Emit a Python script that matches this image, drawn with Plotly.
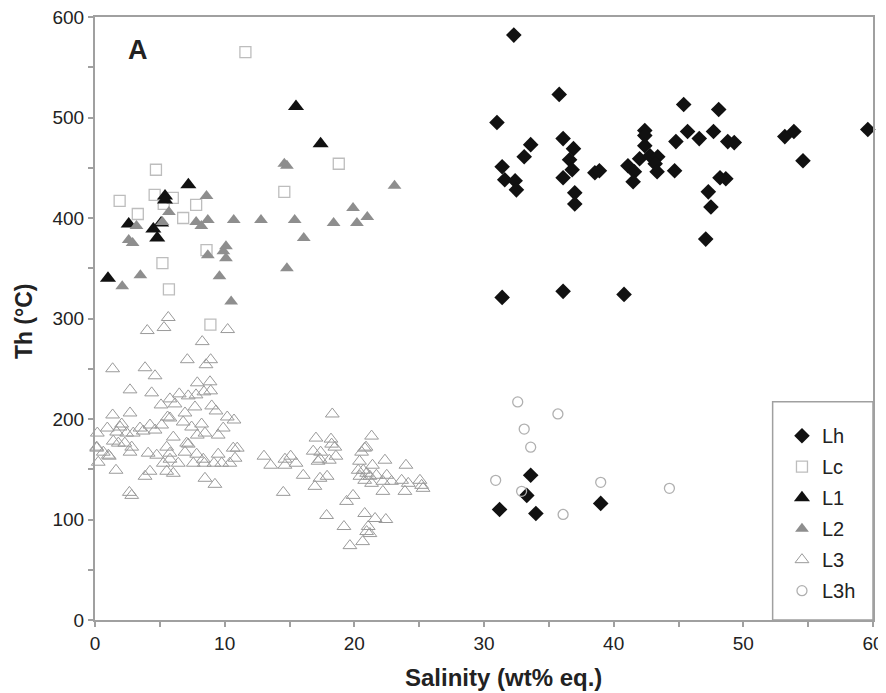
import plotly.graph_objects as go

# ---- data (salinity wt% eq., Th °C) ----
lh_x = [31.0, 32.3, 35.8, 33.6, 33.1, 31.4, 31.6, 32.4, 32.5, 36.1, 36.9, 36.6, 36.8, 36.1, 37.0, 37.0,
        31.4, 36.1, 45.4, 48.1, 42.4, 42.4, 42.4, 45.7, 46.6, 47.7, 44.8, 48.8, 49.3, 53.2, 53.9, 54.6,
        59.6, 42.0, 41.1, 41.6, 41.5, 42.8, 43.4, 43.2, 43.35, 44.7, 38.55, 38.9, 48.2, 48.65, 47.3,
        47.5, 47.1, 40.8, 33.6, 33.3, 31.2, 34.0, 39.0]
lh_y = [495, 582, 523, 473, 461, 451, 438, 437, 428, 479, 469, 458, 448, 440, 425, 414,
        321, 327, 513, 508, 487, 482, 472, 486, 479, 486, 476, 476, 475, 481, 486, 457,
        488, 459, 452, 446, 436, 462, 461, 454, 446, 447, 445, 447, 440, 439, 426,
        411, 379, 324, 144, 124, 110, 106, 116]

lc_x = [11.6, 4.7, 1.9, 4.6, 6.0, 3.3, 7.8, 6.8, 5.3, 5.2, 8.6, 5.7, 8.9, 14.6, 18.8]
lc_y = [565, 448, 417, 423, 420, 404, 413, 400, 414, 355, 368, 329, 294, 426, 454]

l1_x = [1.0, 2.6, 4.5, 4.8, 5.4, 5.4, 5.1, 7.2, 15.5, 17.4]
l1_y = [340, 394, 389, 380, 422, 418, 395, 433, 511, 474]

l2_x = [2.1, 3.5, 2.6, 2.9, 3.2, 5.2, 5.7, 8.6, 7.8, 8.2, 8.7, 10.7, 12.8, 10.1, 9.9, 10.1, 8.7,
        9.6, 10.5, 14.6, 14.8, 15.4, 16.1, 14.8, 18.4, 19.9, 20.2, 21.0, 23.1]
l2_y = [332, 343, 378, 375, 392, 396, 406, 422, 396, 392, 398, 398, 398, 372, 367, 360, 363,
        342, 317, 454, 452, 398, 380, 350, 395, 410, 395, 401, 432]

l3_x = [5.65, 4.03, 5.32, 10.23, 8.27, 7.12, 8.92, 8.56, 1.36, 3.86, 4.63, 2.7, 4.37, 7.89, 8.87,
        6.5, 7.19, 7.79, 8.4, 8.92, 5.78, 5.09, 6.17, 7.71, 9.0, 9.33, 6.94, 2.7, 1.36, 5.6, 5.78,
        10.2, 10.72, 0.18, 0.95, 2.06, 1.67, 2.44, 3.47, 2.95, 3.72, 4.24, 4.63, 5.14, 6.04, 6.8,
        7.45, 8.22, 8.48, 7.89, 9.5, 9.89, 0.13, 1.41, 1.8, 0.64, 1.1, 0.25, 2.7, 2.3, 2.83, 1.62,
        4.1, 4.76, 5.53, 5.78, 5.78, 5.27, 6.42, 7.07, 7.19, 6.94, 7.84, 7.58, 8.43, 8.35, 9.17,
        9.5, 9.77, 10.4, 10.8, 10.66, 3.86, 4.24, 5.53, 6.04, 8.48, 9.25, 2.65, 2.83, 1.93, 1.03,
        0.13, 10.97,
        18.3, 17.04, 18.2, 18.25, 18.5, 16.83, 17.4, 17.35, 17.2, 18.58, 18.07, 13.03, 13.55, 14.65,
        14.65, 15.09, 15.5, 14.52, 16.06, 17.35, 17.9, 16.96, 17.86, 21.33, 20.8, 20.56, 20.4, 20.3,
        20.69, 20.95, 20.43, 21.2, 20.8, 21.33, 21.7, 22.36, 22.5, 22.87, 22.2, 22.2, 23.98, 23.65,
        24.16, 23.9, 25.06, 25.19, 25.3, 19.9, 19.4, 19.2, 20.8, 21.6, 22.43, 21.07, 20.95, 21.2,
        20.64, 19.66, 20.9, 21.4]
l3_y = [301, 288, 291, 289, 277, 259, 259, 254, 250, 251, 243, 229, 226, 236, 237,
        225, 223, 224, 227, 228, 220, 214, 215, 212, 213, 208, 206, 206, 204, 202, 201,
        202, 199, 186, 191, 195, 187, 186, 191, 186, 188, 194, 189, 194, 182, 197,
        192, 195, 186, 184, 184, 191, 172, 178, 176, 167, 163, 157, 167, 176, 172, 149,
        166, 164, 172, 166, 160, 156, 156, 176, 175, 167, 165, 156, 156, 160, 156,
        165, 156, 156, 161, 171, 143, 148, 148, 146, 141, 135, 127, 124, 192, 164,
        171, 171,
        205, 181, 180, 175, 172, 168, 167, 160, 158, 163, 159, 163, 154, 160,
        154, 163, 156, 127, 144, 141, 143, 133, 104, 183, 171, 167, 158, 149,
        149, 146, 143, 143, 139, 136, 144, 159, 144, 138, 138, 128, 154, 139,
        136, 128, 139, 134, 131, 124, 118, 93, 106, 101, 100, 93, 88, 86,
        78, 74, 172, 154]

l3h_x = [32.6, 35.7, 33.1, 33.6, 30.9, 32.9, 36.1, 39.0, 44.3]
l3h_y = [217, 205, 190, 172, 139, 128, 105, 137, 131]

FONT = "Liberation Sans, Arial, sans-serif"
AXC = "#a0a0a0"
TXT = "#222222"

fig = go.Figure()

series = [
    ("Lh", lh_x, lh_y, "diamond", 12, "#111111", None),
    ("Lc", lc_x, lc_y, "square-open", 11, "#bdbdbd", 1.3),
    ("L1", l1_x, l1_y, "triangle-up", 14, "#111111", None),
    ("L2", l2_x, l2_y, "triangle-up", 12, "#8e8e8e", None),
    ("L3", l3_x, l3_y, "triangle-up-open", 12, "#9a9a9a", 1.0),
    ("L3h", l3h_x, l3h_y, "circle-open", 10, "#b0b0b0", 1.3),
]
for i, (name, xs, ys, sym, size, col, lw) in enumerate(series):
    mk = dict(symbol=sym, size=size, color=col)
    if lw is not None:
        mk["line"] = dict(width=lw, color=col)
    else:
        mk["line"] = dict(width=0)
    fig.add_trace(go.Scatter(x=xs, y=ys, mode="markers", name=name, marker=mk,
                             legendgroup=f"g{i}", cliponaxis=False))

# legend box (paper coordinates)
fig.add_shape(type="rect", xref="paper", yref="paper", x0=0.871, x1=1.0, y0=0.0, y1=0.362,
              line=dict(color=AXC, width=1.5), fillcolor="white", layer="below")

fig.add_annotation(text="<b>A</b>", xref="paper", yref="paper", x=0.055, y=0.945,
                   xanchor="center", yanchor="middle",
                   showarrow=False, font=dict(family=FONT, size=27, color=TXT))
fig.add_annotation(text="<b>Salinity (wt% eq.)</b>", xref="paper", yref="paper",
                   x=0.525, y=-0.096, xanchor="center", yanchor="middle",
                   showarrow=False, font=dict(family=FONT, size=24, color=TXT))
fig.add_annotation(text="<b>Th (°C)</b>", xref="paper", yref="paper", textangle=-90,
                   x=-0.091, y=0.496, xanchor="center", yanchor="middle",
                   showarrow=False, font=dict(family=FONT, size=23, color=TXT))

fig.update_layout(
    width=878, height=685,
    margin=dict(l=87, r=13, t=9, b=73),
    paper_bgcolor="white", plot_bgcolor="white",
    font=dict(family=FONT, color=TXT),
    showlegend=True,
    legend=dict(x=0.883, y=0.338, xanchor="left", yanchor="top",
                bgcolor="rgba(0,0,0,0)", borderwidth=0,
                font=dict(family=FONT, size=20, color=TXT),
                tracegroupgap=2, traceorder="grouped", itemwidth=30),
    xaxis=dict(range=[0, 60], dtick=10, tick0=0, showgrid=False, zeroline=False,
               automargin=False, ticklabeloverflow="allow",
               showline=True, linecolor=AXC, linewidth=2, mirror=True,
               ticks="outside", ticklen=5, tickcolor=AXC, tickwidth=1.5,
               minor=dict(dtick=5, ticks="outside", ticklen=5, tickcolor=AXC, tickwidth=1.5),
               tickfont=dict(size=19, color=TXT)),
    yaxis=dict(range=[0, 600], dtick=100, tick0=0, showgrid=False, zeroline=False,
               automargin=False, ticklabeloverflow="allow",
               showline=True, linecolor=AXC, linewidth=2, mirror=True,
               ticks="outside", ticklen=5, tickcolor=AXC, tickwidth=1.5,
               minor=dict(dtick=50, ticks="outside", ticklen=5, tickcolor=AXC, tickwidth=1.5),
               tickfont=dict(size=19, color=TXT)),
)

fig.write_html("out.html")
